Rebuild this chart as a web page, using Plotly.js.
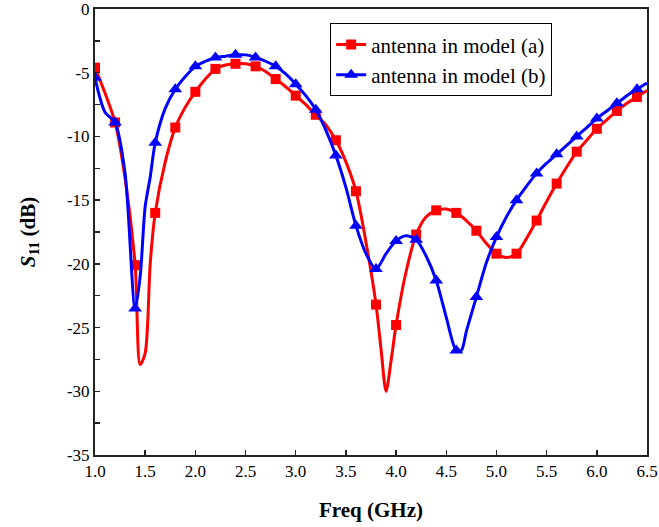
<!DOCTYPE html>
<html>
<head>
<meta charset="utf-8">
<script src="https://cdn.plot.ly/plotly-3.0.1.min.js"></script>
<style>html,body{margin:0;padding:0;background:#fff;}</style>
</head>
<body>
<div id="chart" style="width:659px;height:527px;"></div>
<script>
// Series (a): antenna in model (a)
var freqA = [1.0,1.1,1.2,1.3,1.4,1.45,1.5,1.55,1.6,1.7,1.8,1.9,2.0,2.1,2.2,2.3,2.4,2.5,2.6,2.7,2.8,2.9,3.0,3.1,3.2,3.3,3.4,3.5,3.6,3.7,3.8,3.85,3.9,3.95,4.0,4.1,4.2,4.3,4.4,4.5,4.6,4.7,4.8,4.9,5.0,5.1,5.2,5.3,5.4,5.5,5.6,5.7,5.8,5.9,6.0,6.1,6.2,6.3,6.4,6.5];
var s11A  = [-4.6,-6.6,-8.9,-13.3,-20.1,-27.9,-27.0,-20.0,-16.0,-12.0,-9.3,-7.7,-6.5,-5.5,-4.7,-4.4,-4.3,-4.3,-4.5,-4.9,-5.5,-6.1,-6.8,-7.5,-8.3,-9.1,-10.3,-12.0,-14.3,-18.3,-23.2,-26.7,-30.0,-27.6,-24.8,-20.6,-17.7,-16.3,-15.8,-15.7,-16.0,-16.6,-17.4,-18.4,-19.2,-19.5,-19.2,-18.0,-16.6,-15.1,-13.7,-12.4,-11.2,-10.3,-9.4,-8.7,-8.0,-7.4,-6.9,-6.4];
// Series (b): antenna in model (b)
var freqB = [1.0,1.1,1.2,1.3,1.4,1.45,1.5,1.55,1.6,1.7,1.8,1.9,2.0,2.1,2.2,2.3,2.4,2.5,2.6,2.7,2.8,2.9,3.0,3.1,3.2,3.3,3.4,3.5,3.6,3.7,3.8,3.9,4.0,4.1,4.2,4.3,4.4,4.5,4.6,4.65,4.7,4.8,4.9,5.0,5.1,5.2,5.3,5.4,5.5,5.6,5.7,5.8,5.9,6.0,6.1,6.2,6.3,6.4,6.5];
var s11B  = [-5.4,-8.1,-8.9,-12.9,-23.5,-21.0,-15.5,-13.2,-10.5,-7.8,-6.3,-5.3,-4.5,-4.1,-3.8,-3.7,-3.6,-3.6,-3.8,-4.1,-4.5,-5.1,-5.9,-6.8,-7.9,-9.5,-11.5,-14.0,-17.0,-19.2,-20.4,-19.2,-18.2,-17.8,-18.1,-19.4,-21.3,-24.2,-26.8,-26.8,-25.3,-22.6,-19.9,-17.9,-16.3,-15.0,-13.9,-12.9,-12.1,-11.4,-10.7,-10.0,-9.3,-8.6,-8.0,-7.4,-6.8,-6.3,-5.8];
var seriesNames = ['antenna in model (a)', 'antenna in model (b)'];
var xTickVals = [1.0,1.5,2.0,2.5,3.0,3.5,4.0,4.5,5.0,5.5,6.0,6.5];
var xTickText = ['1.0','1.5','2.0','2.5','3.0','3.5','4.0','4.5','5.0','5.5','6.0','6.5'];
var yTickVals = [0,-5,-10,-15,-20,-25,-30,-35];
var yTickText = ['0','-5','-10','-15','-20','-25','-30','-35'];

function markerColors(xs, col) {
  return xs.map(function (x) {
    return Math.abs(x * 5 - Math.round(x * 5)) < 1e-6 ? col : 'rgba(0,0,0,0)';
  });
}

var serif = '"Liberation Serif", "Times New Roman", serif';

var traceA = {
  x: freqA, y: s11A, name: seriesNames[0], type: 'scatter', mode: 'lines+markers',
  line: {color: '#ff0000', width: 3, shape: 'spline', smoothing: 0.8},
  marker: {symbol: 'square', size: 10, color: markerColors(freqA, '#ff0000')},
  legendgroup: 'a'
};
var traceB = {
  x: freqB, y: s11B, name: seriesNames[1], type: 'scatter', mode: 'lines+markers',
  line: {color: '#0000ff', width: 3, shape: 'spline', smoothing: 0.8},
  marker: {symbol: 'triangle-up', size: 12, color: markerColors(freqB, '#0000ff')},
  legendgroup: 'b'
};

var layout = {
  width: 659, height: 527,
  margin: {l: 95, r: 12, t: 9, b: 72},
  paper_bgcolor: '#fff', plot_bgcolor: '#fff',
  font: {family: serif, color: '#000', size: 17},
  showlegend: true,
  legend: {
    x: 0.426, y: 0.968, xanchor: 'left', yanchor: 'top',
    bordercolor: '#000', borderwidth: 1, bgcolor: '#fff',
    font: {family: serif, size: 21, color: '#000'},
    traceorder: 'normal'
  },
  xaxis: {
    range: [1.0, 6.5], tickvals: xTickVals, ticktext: xTickText,
    ticks: 'inside', ticklen: 5, tickwidth: 1.5, tickcolor: '#222',
    showline: true, linecolor: '#222', linewidth: 2, mirror: true,
    showgrid: false, zeroline: false, ticklabeloverflow: 'allow',
    tickfont: {family: serif, size: 17, color: '#000'},
    title: {text: '<b>Freq (GHz)</b>', font: {family: serif, size: 21, color: '#000'}, standoff: 22}
  },
  yaxis: {
    range: [-35, 0], tickvals: yTickVals, ticktext: yTickText,
    ticks: 'inside', ticklen: 5, tickwidth: 1.5, tickcolor: '#222',
    minor: {dtick: 2.5, ticks: 'inside', ticklen: 5, tickwidth: 1.5, tickcolor: '#222', showgrid: false},
    showline: true, linecolor: '#222', linewidth: 2, mirror: true,
    showgrid: false, zeroline: false, ticklabeloverflow: 'allow',
    tickfont: {family: serif, size: 17, color: '#000'},
    title: {text: '<b><i>S</i><sub>11</sub> (dB)</b>', font: {family: serif, size: 21, color: '#000'}, standoff: 26}
  }
};

Plotly.newPlot('chart', [traceA, traceB], layout, {displayModeBar: false, staticPlot: true});
</script>
</body>
</html>
